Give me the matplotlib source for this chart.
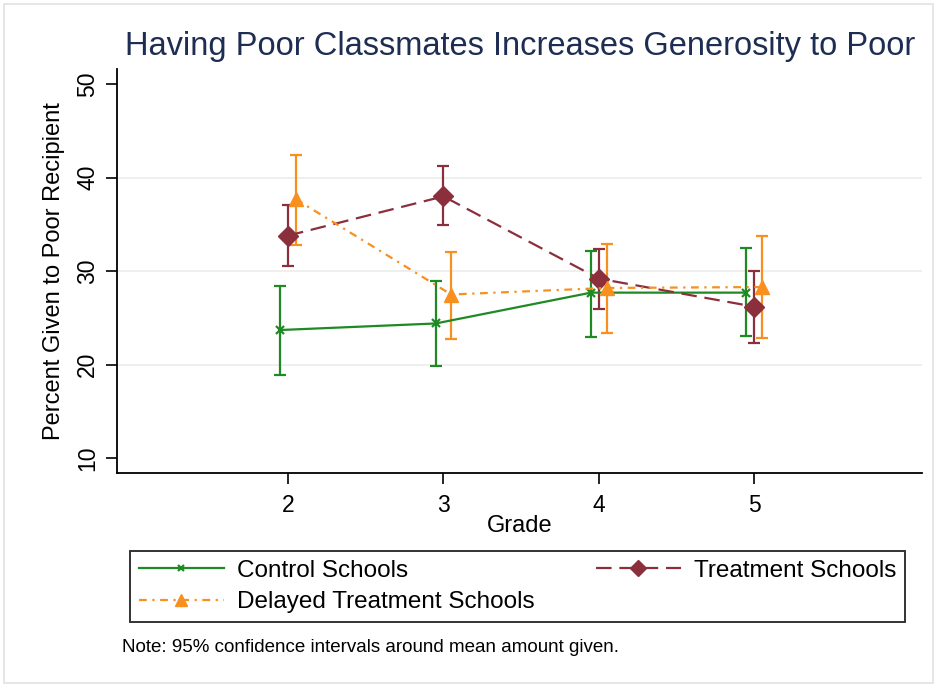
import matplotlib.pyplot as plt
import numpy as np
from matplotlib.patches import Rectangle

plt.rcParams['font.family'] = ['Liberation Sans', 'DejaVu Sans']

# data
grades = [2, 3, 4, 5]
control_mean = [23.7, 24.4, 27.7, 27.7]
control_lo = [18.9, 19.9, 23.0, 23.1]
control_hi = [28.4, 28.9, 32.2, 32.5]
treat_mean = [33.8, 38.0, 29.2, 26.2]
treat_lo = [30.5, 34.9, 26.0, 22.3]
treat_hi = [37.1, 41.3, 32.4, 30.0]
delay_mean = [37.7, 27.5, 28.2, 28.3]
delay_lo = [32.8, 22.7, 23.4, 22.8]
delay_hi = [42.4, 32.1, 32.9, 33.8]

green = '#1f8a24'
maroon = '#8b2f3c'
orange = '#f7901e'

fig = plt.figure(figsize=(9.37, 6.86), dpi=100)
fig.patches.append(Rectangle((0.004, 0.004), 0.992, 0.99, transform=fig.transFigure,
                             fill=False, edgecolor='#e2e2e2', linewidth=1.2))
ax = fig.add_axes([0.125, 0.3105, 0.859, 0.5885])

g = np.array(grades, dtype=float)

def draw(x, mean, lo, hi, color, marker, ms, dashes, label, mew=1.0):
    mean = np.array(mean)
    err = [mean - np.array(lo), np.array(hi) - mean]
    ax.errorbar(x, mean, yerr=err, fmt='none', ecolor=color, elinewidth=1.6,
                capsize=4.5, capthick=1.6, zorder=2)
    line, = ax.plot(x, mean, color=color, marker=marker, markersize=ms, lw=1.6,
                    markeredgewidth=mew, label=label, zorder=3)
    if dashes is not None:
        line.set_dashes(dashes)
    return line

h_control = draw(g - 0.05, control_mean, control_lo, control_hi, green, 'x', 6, None,
                 'Control Schools', mew=1.6)
h_treat = draw(g, treat_mean, treat_lo, treat_hi, maroon, 'D', 10, (7, 3.5),
               'Treatment Schools')
h_delay = draw(g + 0.05, delay_mean, delay_lo, delay_hi, orange, '^', 10, (3.5, 2.5, 1, 2.5),
               'Delayed Treatment Schools')

ax.set_xlim(0.9, 6.08)
ax.set_ylim(8.4, 51.6)
ax.set_xticks(grades)
ax.set_yticks([10, 20, 30, 40, 50])
ax.set_yticklabels(['10', '20', '30', '40', '50'], rotation=90, va='center')
for yv in [20, 30, 40]:
    ax.axhline(yv, color='#ececec', lw=1.2, zorder=0)
ax.spines['top'].set_visible(False)
ax.spines['right'].set_visible(False)
ax.spines['left'].set_linewidth(1.3)
ax.spines['bottom'].set_linewidth(1.3)
ax.tick_params(axis='both', labelsize=16.5, length=8, width=1.2, colors='black')
ax.tick_params(axis='x', pad=7)
ax.tick_params(axis='y', pad=5)

ax.set_xlabel('Grade', fontsize=17, labelpad=-1)
ax.set_ylabel('Percent Given to Poor Recipient', fontsize=17, labelpad=8)
fig.text(0.555, 0.932, 'Having Poor Classmates Increases Generosity to Poor',
         fontsize=23.5, color='#1e2d52', ha='center', va='center')

leg = fig.legend([h_control, h_delay, h_treat],
                 ['Control Schools', 'Delayed Treatment Schools', 'Treatment Schools'],
                 ncol=2, loc='lower left', mode='expand', borderaxespad=0,
                 bbox_to_anchor=(130 / 937, 1 - 622 / 686, 775 / 937, 72 / 686),
                 fontsize=17.5, handlelength=3.5, frameon=True, fancybox=False,
                 borderpad=0.35, labelspacing=0.4, columnspacing=1.0, handletextpad=0.55,
                 markerscale=0.8)
leg.get_frame().set_edgecolor('black')
leg.get_frame().set_linewidth(1.4)

fig.text(122 / 937, 1 - 648 / 686, 'Note: 95% confidence intervals around mean amount given.',
         fontsize=13.5, ha='left', va='center')

fig.savefig('out.png', dpi=100)
